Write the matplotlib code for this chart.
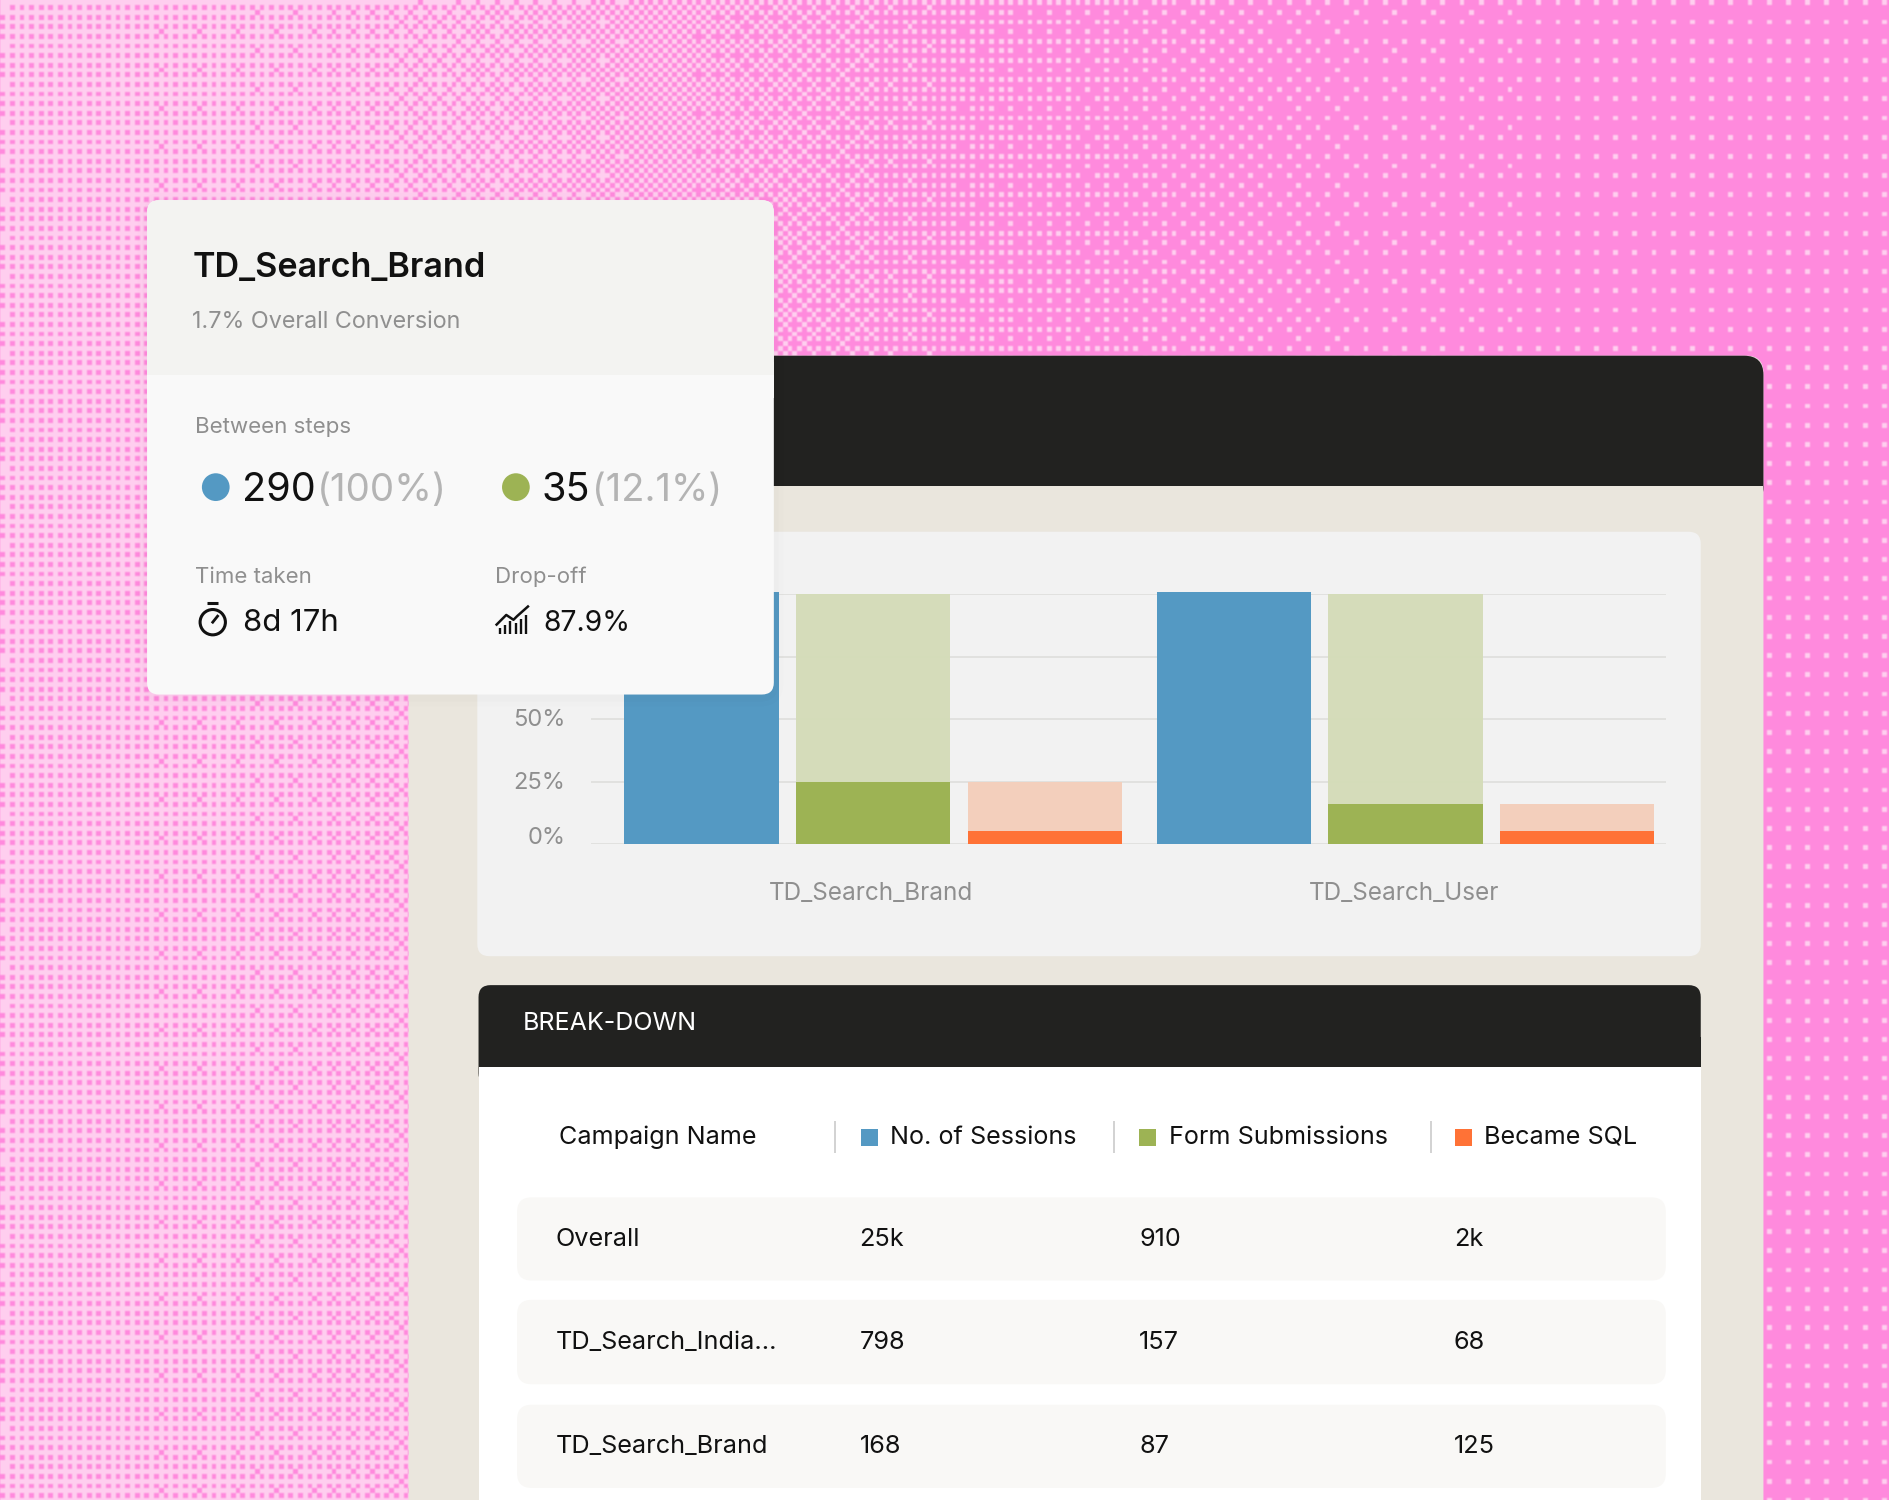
import numpy as np
import matplotlib
matplotlib.use("Agg")
import matplotlib.pyplot as plt
from matplotlib.patches import FancyBboxPatch, Rectangle, Circle
from matplotlib.transforms import ScaledTranslation

plt.rcParams['font.family'] = ['Inter', 'Noto Sans', 'DejaVu Sans']

# ---- data ----
groups = ["TD_Search_Brand", "TD_Search_User"]
sessions = [101, 101]
form_ghost = [100, 100]
form_subs = [25, 16]
sql_ghost = [25, 16]
sql = [5.3, 5.3]
y_ticks = [0, 25, 50, 75, 100]
y_labels = ["0%", "25%", "50%", "75%", "100%"]

table_head = ["Campaign Name", "No. of Sessions", "Form Submissions", "Became SQL"]
table_names = ["Overall", "TD_Search_India...", "TD_Search_Brand"]
table_sessions = ["25k", "798", "168"]
table_forms = ["910", "157", "87"]
table_sqls = ["2k", "68", "125"]

card_title = "TD_Search_Brand"
card_sub = "1.7% Overall Conversion"
card_a = ("290", "(100%)")
card_b = ("35", "(12.1%)")
time_taken = "8d 17h"
drop_off = "87.9%"

BLUE, GREEN, ORANGE = "#5499C3", "#9DB354", "#FF7236"
GHOST_G, GHOST_O = "#D4DCB8", "#F3CFBC"
DARK, BEIGE = "#222220", "#EAE6DD"
GREY = "#8F8F8F"

W, H = 1890, 1500
fig = plt.figure(figsize=(W / 100, H / 100), dpi=100)

# ---- halftone background ----
def background():
    b4 = np.array([[0, 8, 2, 10], [12, 4, 14, 6], [3, 11, 1, 9], [15, 7, 13, 5]])
    b8 = np.block([[4 * b4, 4 * b4 + 2], [4 * b4 + 3, 4 * b4 + 1]])
    thr = (b8 + 0.5) / 64
    xx, yy = np.meshgrid(np.arange(W), np.arange(H))
    pitch = 4.8
    ci = (xx / pitch).astype(int)
    cj = (yy / pitch).astype(int)
    level = np.interp(ci * pitch, [0, 300, 650, 1000, 1400, 1890], [0.76, 0.72, 0.5, 0.2, 0.075, 0.055])
    on = level > thr[cj % 8, ci % 8]
    light = np.array([255, 206, 239]) / 255
    dark = np.array([255, 138, 221]) / 255
    img = np.where(on[..., None], light, dark)
    for ax_ in (0, 1):
        img = (np.roll(img, 1, ax_) + 2 * img + np.roll(img, -1, ax_)) / 4
    return img

bg = fig.add_axes([0, 0, 1, 1], zorder=0)
bg.imshow(background(), interpolation="nearest", aspect="auto")
bg.axis("off")

# ---- overlay in layout units ----
def layer(z):
    a = fig.add_axes([0, 0, 1, 1], zorder=z)
    a.set_xlim(0, 1568)
    a.set_ylim(1244, 0)
    a.axis("off")
    a.patch.set_alpha(0)
    return a

def rbox(a, x0, y0, x1, y1, r, color, **kw):
    a.add_patch(FancyBboxPatch((x0 + r, y0 + r), x1 - x0 - 2 * r, y1 - y0 - 2 * r,
                               boxstyle=f"round,pad={r},rounding_size={r}",
                               fc=color, ec="none", **kw))

def rect(a, x0, y0, x1, y1, color, **kw):
    a.add_patch(Rectangle((x0, y0), x1 - x0, y1 - y0, fc=color, ec="none", **kw))

low = layer(1)
rbox(low, 339, 295, 1463, 1300, 14, BEIGE)
rbox(low, 339, 295, 1463, 420, 16, DARK)
rect(low, 339, 360, 1463, 403, DARK)
rect(low, 339, 403, 1463, 430, BEIGE)
rbox(low, 396, 441, 1411, 793, 10, "#F2F2F2")
rbox(low, 397, 817, 1411, 900, 10, DARK)
rect(low, 397, 860, 1411, 885, DARK)
rect(low, 397, 885, 1411, 1244, "#FFFFFF")
low.text(434, 849, "BREAK-DOWN", color="white", fontsize=18, va="center")

# table
head_x = [464, 738, 970, 1231]
col_x = [461, 713, 945, 1206]
sep_x = [693, 924, 1187]
chip_x = [714.5, 945, 1207]
chip_col = [BLUE, GREEN, ORANGE]
for x, t in zip(head_x, table_head):
    low.text(x, 943, t, color="#111111", fontsize=18.1, va="center")
for x in sep_x:
    low.plot([x, x], [930, 956], color="#CFCFCF", lw=1.3, solid_capstyle="butt")
for x, c in zip(chip_x, chip_col):
    rect(low, x, 936.5, x + 14, 950.5, c)
row_y = [(993, 1062), (1078, 1148), (1165, 1234)]
for i, (y0, y1) in enumerate(row_y):
    rbox(low, 429, y0, 1382, y1, 12, "#F9F8F6")
    ym = (y0 + y1) / 2 + 0.5
    for x, col in zip(col_x, (table_names, table_sessions, table_forms, table_sqls)):
        low.text(x, ym, col[i], color="#111111", fontsize=18.2, va="center")

# ---- chart ----
s = 1 / 1568
ax = fig.add_axes([490 * s, 1 - 700 / 1244, (1382 - 490) * s, (700 - 493) / 1244], zorder=2)
ax.patch.set_alpha(0)
pitch_x = 142.5
ax.set_xlim((490 - 724.5) / pitch_x, (1382 - 724.5) / pitch_x)
ax.set_ylim(0, 100)
centers = np.array([0, 3.098])
bw = 0.898
ax.bar(centers - 1, sessions, bw, color=BLUE, zorder=3, clip_on=False)
ax.bar(centers, form_ghost, bw, color=GHOST_G, alpha=0.96, zorder=3)
ax.bar(centers, form_subs, bw, color=GREEN, zorder=4)
ax.bar(centers + 1, sql_ghost, bw, color=GHOST_O, zorder=3)
ax.bar(centers + 1, sql, bw, color=ORANGE, zorder=4)
ax.set_yticks(y_ticks, y_labels)
ax.set_xticks(centers, groups)
ax.grid(axis="y", color="#E1E1DF", lw=1.4, zorder=1)
ax.set_axisbelow(True)
ax.tick_params(axis="both", length=0, labelcolor=GREY, labelsize=17.5)
ax.tick_params(axis="y", labelsize=17, pad=18)
ax.tick_params(axis="x", pad=27)
for sp in ax.spines.values():
    sp.set_visible(False)
for lab, v in zip(ax.get_yticklabels(), y_ticks):
    dy = 6 if v == 0 else 1
    lab.set_transform(lab.get_transform() + ScaledTranslation(0, dy / 72, fig.dpi_scale_trans))
for lab in ax.get_xticklabels():
    lab.set_transform(lab.get_transform() + ScaledTranslation(-1.3 / 72, 0, fig.dpi_scale_trans))

# ---- floating card ----
top = layer(3)
for k, al in zip((8, 4), (0.006, 0.010)):
    rbox(top, 122 - k, 166 - k + 2, 642 + k, 576 + k + 2, 12 + k, "#000000", alpha=al)
rbox(top, 122, 166, 642, 576, 10, "#F9F9F9")
rbox(top, 122, 166, 642, 320, 10, "#F3F3F1")
rect(top, 122, 300, 642, 311, "#F3F3F1")
rect(top, 122, 311, 642, 330, "#F9F9F9")

top.text(159.5, 222, card_title, color="#111111", fontsize=24.6, fontweight="semibold", va="center")
top.text(159.5, 267, card_sub, color=GREY, fontsize=16.8, va="center")
top.text(162, 354, "Between steps", color=GREY, fontsize=16.1, va="center")
top.add_patch(Circle((179, 404), 11.5, fc=BLUE, ec="none"))
top.add_patch(Circle((428, 404), 11.5, fc=GREEN, ec="none"))
top.text(201, 407, card_a[0], color="#111111", fontsize=28.5, va="center")
top.text(263, 407, card_a[1], color="#B4B4B4", fontsize=27.7, va="center")
top.text(449.5, 407, card_b[0], color="#111111", fontsize=28.5, va="center")
top.text(491, 407, card_b[1], color="#B4B4B4", fontsize=27.4, va="center")
top.text(162, 478.5, "Time taken", color=GREY, fontsize=16, va="center")
top.text(410.5, 478.5, "Drop-off", color=GREY, fontsize=16, va="center")
top.text(202, 517, time_taken, color="#111111", fontsize=22.4, va="center")
top.text(450.5, 517, drop_off, color="#111111", fontsize=20.4, va="center")

# stopwatch icon
top.add_patch(Circle((176.5, 516), 10.5, fc="none", ec="#111111", lw=2.2))
top.plot([172, 181], [500, 500], color="#111111", lw=2.2, solid_capstyle="butt")
top.plot([176.5, 180.5], [516, 511], color="#111111", lw=2)
# growth icon
for x, y0 in zip((414.5, 419, 423.5, 428, 432, 436.5), (521, 518, 515, 517, 513, 510)):
    top.plot([x, x], [y0, 526], color="#111111", lw=1.7, solid_capstyle="butt")
top.plot([412, 420, 426, 429, 438], [518, 510, 514, 511, 503], color="#111111", lw=1.8)

fig.savefig("out.png", dpi=100)
